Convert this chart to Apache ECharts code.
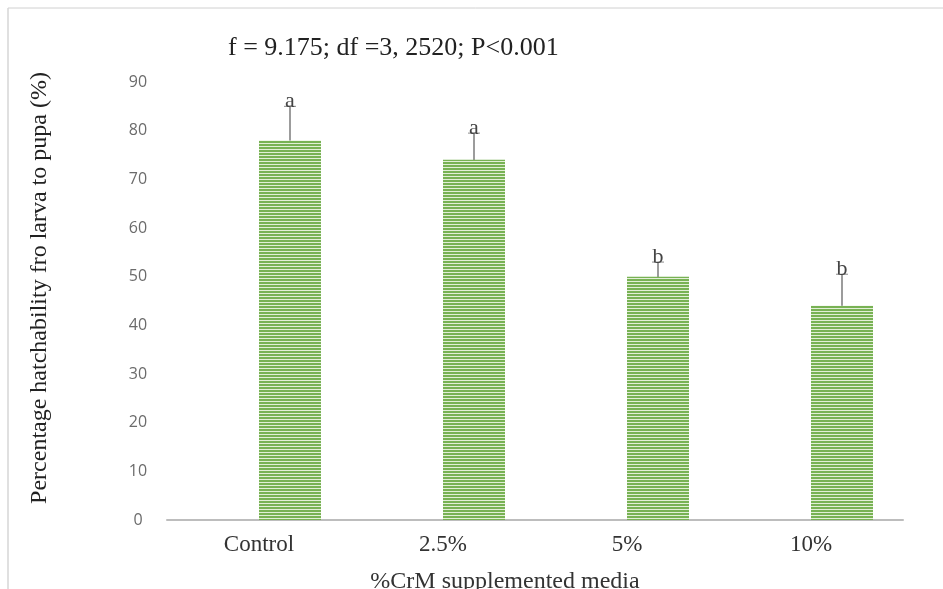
<!DOCTYPE html>
<html>
<head>
<meta charset="utf-8">
<script src="https://cdn.jsdelivr.net/npm/echarts@6/dist/echarts.min.js"></script>
<style>
  html, body { margin: 0; padding: 0; background: #fff; }
  #chart { width: 943px; height: 589px; }
</style>
</head>
<body>
<div id="chart"></div>
<script>
// Media groups and mean hatchability (larva -> pupa), %
const categories = ['Control', '2.5%', '5%', '10%'];
const hatchability = [78, 74, 50, 44];
// Error bar extents drawn above each bar
const errLow = [77.4, 73.6, 49.3, 43.4];
const errHigh = [85, 79.5, 53, 50.5];
// Significance groups
const groupLetters = ['a', 'a', 'b', 'b'];
const yTicks = { min: 0, max: 90, interval: 10 };

// Horizontal striped fill for the bars
function stripeFill() {
  const c = document.createElement('canvas');
  c.width = 4; c.height = 3;
  const ctx = c.getContext('2d');
  ctx.fillStyle = '#78b254';
  ctx.fillRect(0, 0, 4, 2);
  ctx.fillStyle = '#e2efd6';
  ctx.fillRect(0, 2, 4, 1);
  return { image: c, repeat: 'repeat' };
}

const serif = '"Liberation Serif", "DejaVu Serif", serif';
const chart = echarts.init(document.getElementById('chart'));

chart.setOption({
  animation: false,
  backgroundColor: '#fff',
  grid: [
    { left: 167, right: 40, top: 82, bottom: 69, outerBoundsMode: 'none', containLabel: false },
    { left: 198, right: 9, top: 82, bottom: 69, outerBoundsMode: 'none', containLabel: false }
  ],
  xAxis: [
    {
      type: 'category', gridIndex: 0, data: categories,
      axisLine: { lineStyle: { color: '#bdbdbd', width: 2 } },
      axisTick: { show: false },
      axisLabel: { fontFamily: serif, fontSize: 23, color: '#333', margin: 13 },
      name: '%CrM supplemented media', nameLocation: 'middle', nameGap: 50,
      nameTextStyle: { fontFamily: serif, fontSize: 24, color: '#333', padding: [0, 60, 0, 0], verticalAlign: 'top' }
    },
    {
      type: 'category', gridIndex: 1, data: categories,
      axisLine: { show: false }, axisTick: { show: false }, axisLabel: { show: false }
    }
  ],
  yAxis: [
    {
      type: 'value', gridIndex: 0, min: yTicks.min, max: yTicks.max, interval: yTicks.interval,
      axisLine: { show: false }, axisTick: { show: false }, splitLine: { show: false },
      axisLabel: { fontFamily: '"Open Sans", "Liberation Sans", sans-serif', fontSize: 16, color: '#6b6b6b', align: 'center', margin: 29 },
      name: 'Percentage hatchability fro larva to pupa (%)', nameLocation: 'middle', nameGap: 127,
      nameTextStyle: { fontFamily: serif, fontSize: 24, color: '#222', padding: [0, 0, 0, 26], verticalAlign: 'middle' }
    },
    {
      type: 'value', gridIndex: 1, min: yTicks.min, max: yTicks.max, interval: yTicks.interval,
      show: false
    }
  ],
  graphic: [
    { type: 'line', shape: { x1: 8, y1: 8, x2: 943, y2: 8 }, style: { stroke: '#d0d0d0', lineWidth: 1 } },
    { type: 'line', shape: { x1: 8, y1: 8, x2: 8, y2: 589 }, style: { stroke: '#d6d6d6', lineWidth: 1.5 } },
    {
      type: 'text', left: 228, top: 35,
      style: { text: 'f = 9.175; df =3, 2520; P<0.001', font: '26px ' + serif, fill: '#222' }
    }
  ],
  series: [
    {
      type: 'bar', xAxisIndex: 1, yAxisIndex: 1,
      data: hatchability, barWidth: 62,
      itemStyle: { color: stripeFill() }
    },
    {
      type: 'custom', xAxisIndex: 1, yAxisIndex: 1,
      data: categories.map((c, i) => [i, errLow[i], errHigh[i], groupLetters[i]]),
      renderItem: function (params, api) {
        const lo = api.coord([api.value(0), api.value(1)]);
        const hi = api.coord([api.value(0), api.value(2)]);
        const x = lo[0];
        const cap = 6;
        return {
          type: 'group',
          children: [
            { type: 'line', shape: { x1: x, y1: lo[1], x2: x, y2: hi[1] }, style: { stroke: '#5a5a5a', lineWidth: 1.2 } },
            { type: 'line', shape: { x1: x - cap, y1: lo[1], x2: x + cap, y2: lo[1] }, style: { stroke: '#4f6b3c', lineWidth: 1.6 } },
            { type: 'line', shape: { x1: x - cap, y1: hi[1], x2: x + cap, y2: hi[1] }, style: { stroke: '#8a8a8a', lineWidth: 1 } },
            {
              type: 'text', x: x, y: hi[1] + 6,
              style: { text: groupLetters[params.dataIndex], font: '22px ' + serif, fill: '#444', align: 'center', verticalAlign: 'bottom' }
            }
          ]
        };
      }
    }
  ]
});
</script>
</body>
</html>
